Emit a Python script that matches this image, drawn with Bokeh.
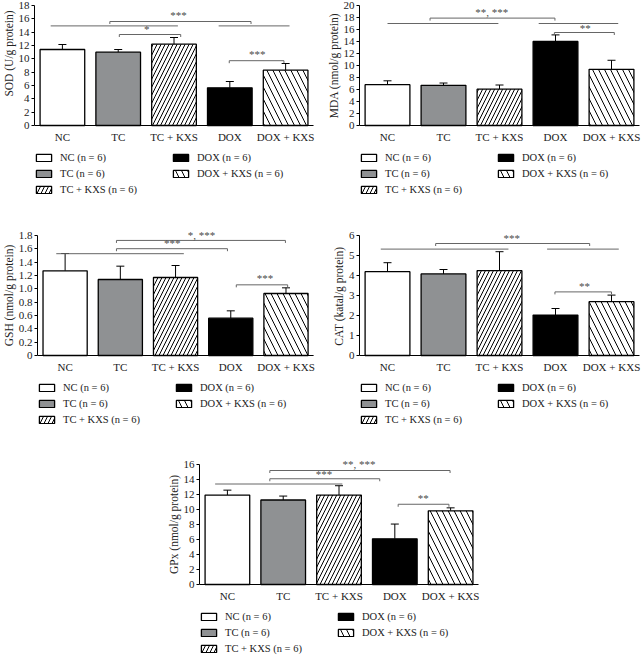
from bokeh.plotting import figure
from bokeh.models import (ColumnDataSource, Range1d, FixedTicker, Whisker, TeeHead,
                          LabelSet, Legend, LegendItem, Spacer, Title)
from bokeh.layouts import row, column
from bokeh.core.properties import value
from bokeh.embed import file_html
from bokeh.resources import INLINE

# ---------------- data ----------------
groups = ["NC", "TC", "TC + KXS", "DOX", "DOX + KXS"]
legend_labels = ["NC (n = 6)", "TC (n = 6)", "TC + KXS (n = 6)", "DOX (n = 6)", "DOX + KXS (n = 6)"]

sod_mean = [11.4, 11.0, 12.2, 5.65, 8.3]
sod_err = [0.75, 0.4, 1.0, 0.95, 1.0]
sod_ticks = [0, 2, 4, 6, 8, 10, 12, 14, 16, 18]
sod_tick_labels = ["0", "2", "4", "6", "8", "10", "12", "14", "16", "18"]

mda_mean = [6.8, 6.7, 6.05, 14.0, 9.37]
mda_err = [0.65, 0.38, 0.7, 1.1, 1.5]
mda_ticks = [0, 2, 4, 6, 8, 10, 12, 14, 16, 18, 20]
mda_tick_labels = ["0", "2", "4", "6", "8", "10", "12", "14", "16", "18", "20"]

gsh_mean = [1.27, 1.14, 1.17, 0.56, 0.93]
gsh_err = [0.26, 0.2, 0.18, 0.11, 0.085]
gsh_ticks = [0, 0.2, 0.4, 0.6, 0.8, 1.0, 1.2, 1.4, 1.6, 1.8]
gsh_tick_labels = ["0", "0.2", "0.4", "0.6", "0.8", "1.0", "1.2", "1.4", "1.6", "1.8"]

cat_mean = [4.19, 4.08, 4.24, 2.02, 2.69]
cat_err = [0.45, 0.22, 0.95, 0.33, 0.33]
cat_ticks = [0, 1, 2, 3, 4, 5, 6]
cat_tick_labels = ["0", "1", "2", "3", "4", "5", "6"]

gpx_mean = [11.92, 11.27, 11.92, 6.09, 9.82]
gpx_err = [0.66, 0.52, 1.25, 1.97, 0.4]
gpx_ticks = [0, 2, 4, 6, 8, 10, 12, 14, 16]
gpx_tick_labels = ["0", "2", "4", "6", "8", "10", "12", "14", "16"]

# significance annotations: (x start, x end, level, end ticks)
sod_lines = [(-0.21, 2.07, 14.94, False), (0.85, 3.38, 15.6, True), (2.80, 4.07, 14.94, False),
             (1.02, 2.12, 13.65, True), (2.99, 3.97, 9.72, True)]
sod_stars = [(2.08, 16.6, "***"), (1.51, 14.45, "*"), (3.49, 10.7, "***")]

mda_lines = [(0.0, 1.98, 17.0, False), (0.76, 2.99, 17.9, True), (2.70, 4.12, 17.0, False),
             (2.98, 4.05, 15.5, True)]
mda_stars = [(1.86, 18.9, "**, ***"), (3.53, 16.3, "**")]

gsh_lines = [(-0.16, 2.15, 1.527, False), (0.93, 2.94, 1.602, True), (0.93, 3.99, 1.726, True),
             (3.10, 4.03, 1.06, True)]
gsh_stars = [(1.94, 1.692, "***"), (2.47, 1.81, "*, ***"), (3.62, 1.166, "***")]

cat_lines = [(-0.12, 2.16, 5.32, False), (0.86, 3.61, 5.6, True), (2.85, 4.13, 5.32, False),
             (2.99, 4.0, 3.18, True)]
cat_stars = [(2.22, 5.9, "***"), (3.52, 3.5, "**")]

gpx_lines = [(-0.22, 2.06, 13.4, False), (0.76, 2.73, 14.1, True), (0.76, 3.99, 15.2, True),
             (3.06, 3.97, 10.7, True)]
gpx_stars = [(1.73, 14.8, "***"), (2.36, 16.1, "**, ***"), (3.51, 11.5, "**")]

# ---------------- style ----------------
FONT = "Liberation Serif"
fills = ["white", "#8f9193", "white", "black", "white"]
hatches = [" ", " ", "/", " ", "\\"]
hatch_scales = [8, 8, 8, 8, 12]
SIG_COLOR = "#666666"
AXIS_PX = 120   # pixel span from 0 to the top tick
PPX = 56.0      # pixels per category
LABEL_PX = 11.5
# Times-metric advance widths (per 1000 em) used to centre the rotated axis titles
CHAR_W = {"S": 556, "O": 722, "D": 722, " ": 250, "(": 333, ")": 333, "U": 722, "/": 278,
          "g": 500, "p": 500, "r": 333, "o": 500, "t": 278, "e": 444, "i": 278, "n": 500,
          "M": 889, "A": 722, "m": 778, "l": 278, "G": 722, "H": 722, "C": 667, "T": 611,
          "a": 444, "k": 500, "x": 500, "P": 556}


def text_w(s, px):
    return sum(CHAR_W.get(c, 500) for c in s) / 1000.0 * px


def panel(ylabel, means, errs, ticks, tick_labels, lines, stars,
          width, height, left, head, label_shift=0):
    top_tick = ticks[-1]
    k = AXIS_PX / top_tick                   # px per unit
    bottom_px = height - head - AXIS_PX      # px below the zero line
    xs = list(range(len(groups)))
    p = figure(width=width, height=height,
               x_range=Range1d(-0.5, -0.5 + (width - left) / PPX),
               y_range=Range1d(-bottom_px / k, top_tick + head / k),
               x_axis_location=None,
               output_backend="svg", toolbar_location=None,
               min_border_left=left, min_border_right=0, min_border_top=0,
               min_border_bottom=0)
    p.outline_line_color = None
    p.grid.visible = False

    src = ColumnDataSource(dict(x=xs, top=means, upper=[m + e for m, e in zip(means, errs)],
                                fill=fills, hatch=hatches, hscale=hatch_scales,
                                name=groups, zero=[0] * len(xs)))
    r = p.vbar(x="x", top="top", bottom=0, width=0.8, source=src, fill_color="fill",
               line_color="black", line_width=1.3, hatch_pattern="hatch",
               hatch_scale="hscale", hatch_color="black", hatch_weight=1)

    w = Whisker(source=src, base="x", lower="top", upper="upper", line_color="black",
                line_width=1, lower_head=None,
                upper_head=TeeHead(size=8, line_color="black", line_width=1))
    p.add_layout(w)

    # x axis line and category labels
    p.segment(x0=[-0.5], y0=[0], x1=[4.5], y1=[0], line_color="black", line_width=1)
    p.text(x="x", y="zero", text="name", source=src, text_align="center",
           text_baseline="middle", y_offset=11, text_font=value(FONT),
           text_font_size="11px", text_color="#222222")

    # significance brackets
    tl = 2.5 / k
    x0, y0, x1, y1 = [], [], [], []
    for a, b, lvl, tick in lines:
        x0.append(a); x1.append(b); y0.append(lvl); y1.append(lvl)
        if tick:
            for xx in (a, b):
                x0.append(xx); x1.append(xx); y0.append(lvl); y1.append(lvl - tl)
    p.segment(x0=x0, y0=y0, x1=x1, y1=y1, line_color=SIG_COLOR, line_width=1)

    ssrc = ColumnDataSource(dict(x=[s[0] for s in stars], y=[s[1] for s in stars],
                                 t=[s[2] for s in stars]))
    p.add_layout(LabelSet(x="x", y="y", text="t", source=ssrc, text_align="center",
                          text_baseline="middle", text_font=value(FONT),
                          text_font_size="11px", text_color="#4a4a4a"))

    # y axis
    p.yaxis.ticker = FixedTicker(ticks=ticks)
    p.yaxis.major_label_overrides = {t: l for t, l in zip(ticks, tick_labels)}
    p.yaxis.bounds = (0, top_tick)
    p.yaxis.major_tick_out = 3
    p.yaxis.major_tick_in = 0
    p.yaxis.minor_tick_line_color = None
    p.yaxis.major_label_standoff = 2
    p.yaxis.major_label_text_font = FONT
    p.yaxis.major_label_text_font_size = "11px"
    p.yaxis.major_label_text_color = "#222222"
    p.yaxis.axis_line_color = "black"
    p.yaxis.major_tick_line_color = "black"

    # y axis title, centred on the 0..top span of the axis
    off = bottom_px + AXIS_PX / 2 + label_shift - text_w(ylabel, LABEL_PX) / 2
    p.add_layout(Title(text=ylabel, align="left", offset=off, standoff=1,
                       text_font=FONT, text_font_size=f"{LABEL_PX}px",
                       text_font_style="normal", text_color="#222222"), "left")

    # legend below the category labels
    items = [LegendItem(label=value(legend_labels[i]), renderers=[r], index=i) for i in range(5)]
    leg = Legend(items=items, location=(0, bottom_px - 70), nrows=3, orientation="vertical",
                 glyph_width=19, glyph_height=9, label_height=12, label_width=107,
                 label_standoff=7, spacing=4, padding=0, margin=0,
                 border_line_color=None, background_fill_alpha=0,
                 label_text_font=FONT, label_text_font_size="10.5px",
                 label_text_color="#222222")
    p.add_layout(leg)
    return p


p1 = panel("SOD (U/g protein)", sod_mean, sod_err, sod_ticks, sod_tick_labels,
           sod_lines, sod_stars, 320, 227, 33, 5, label_shift=12)
p2 = panel("MDA (nmol/g protein)", mda_mean, mda_err, mda_ticks, mda_tick_labels,
           mda_lines, mda_stars, 321, 227, 39, 5)
p3 = panel("GSH (nmol/g protein)", gsh_mean, gsh_err, gsh_ticks, gsh_tick_labels,
           gsh_lines, gsh_stars, 320, 229, 33, 8)
p4 = panel("CAT (katal/g protein)", cat_mean, cat_err, cat_ticks, cat_tick_labels,
           cat_lines, cat_stars, 321, 229, 39, 8)
p5 = panel("GPx (nmol/g protein)", gpx_mean, gpx_err, gpx_ticks, gpx_tick_labels,
           gpx_lines, gpx_stars, 320, 199, 33, 8)

layout = column(row(p1, p2), row(p3, p4), row(Spacer(width=165, height=199), p5))

open("out.html", "w").write(file_html(layout, INLINE))
